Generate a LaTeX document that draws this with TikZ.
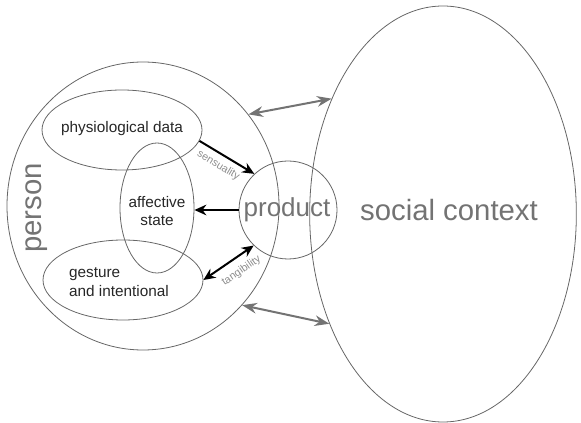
\documentclass[tikz,border=0pt]{standalone}
\usepackage{fontspec}
\setmainfont{Liberation Sans}
\usetikzlibrary{shapes.geometric, arrows.meta}

\tikzset{
  blob/.style={draw=black!60, ellipse, inner sep=0pt, line width=0.6pt},
  bigtxt/.style={text=black!55, font=\fontsize{22}{24}\selectfont},
  smalltxt/.style={text=black!85, font=\fontsize{11.5}{14}\selectfont},
  tinytxt/.style={text=black!45, font=\fontsize{8}{9}\selectfont, inner sep=1pt},
  darrow/.style={-{Stealth[length=9pt, width=8pt]}, draw=black, line width=1.5pt},
  garrow/.style={{Stealth[length=11pt, width=8pt]}-{Stealth[length=11pt, width=8pt]}, draw=black!55, line width=1.5pt}
}

\begin{document}
\begin{tikzpicture}[x=0.75pt, y=-0.75pt]
\useasboundingbox (0,0) rectangle (581,423);

\node[blob, minimum width=204pt, minimum height=216pt] (person) at (143,206) {};
\node[bigtxt, rotate=90] (personlbl) at (37,208) {person};

\node[blob, minimum width=120pt, minimum height=60pt] (physio) at (122,130) {};
\node[smalltxt] (physiolbl) at (122,129) {physiological data};
\node[blob, minimum width=55.5pt, minimum height=97.5pt] (affect) at (157,208) {};
\node[smalltxt, align=center] (affectlbl) at (157,211) {affective\\state};
\node[blob, minimum width=120pt, minimum height=60pt] (gesture) at (123,280) {};
\node[smalltxt, align=left] (gesturelbl) at (119,282) {gesture\\and intentional};

\node[blob, minimum width=73.5pt, minimum height=73.5pt] (product) at (288,210) {};
\node[bigtxt, font=\fontsize{19.5}{22}\selectfont] (productlbl) at (287,210) {product};
\node[blob, minimum width=200pt, minimum height=312pt] (social) at (443,214) {};
\node[bigtxt] (sociallbl) at (449,210) {social context};

\draw[darrow] (physio.-8) -- node[sloped, below, tinytxt, pos=0.45, yshift=-3pt] {sensuality} (product.133);
\draw[darrow] (product.west) -- (product.west -| affect.east);
\draw[darrow, {Stealth[length=9pt, width=8pt]}-{Stealth[length=9pt, width=8pt]}] (gesture.east) -- node[sloped, below, tinytxt, pos=0.6, yshift=-5pt] {tangibility} (product.226);

\draw[garrow] (person.41) -- (social.134);
\draw[garrow] (person.-45) -- (social.-136);
\end{tikzpicture}
\end{document}
